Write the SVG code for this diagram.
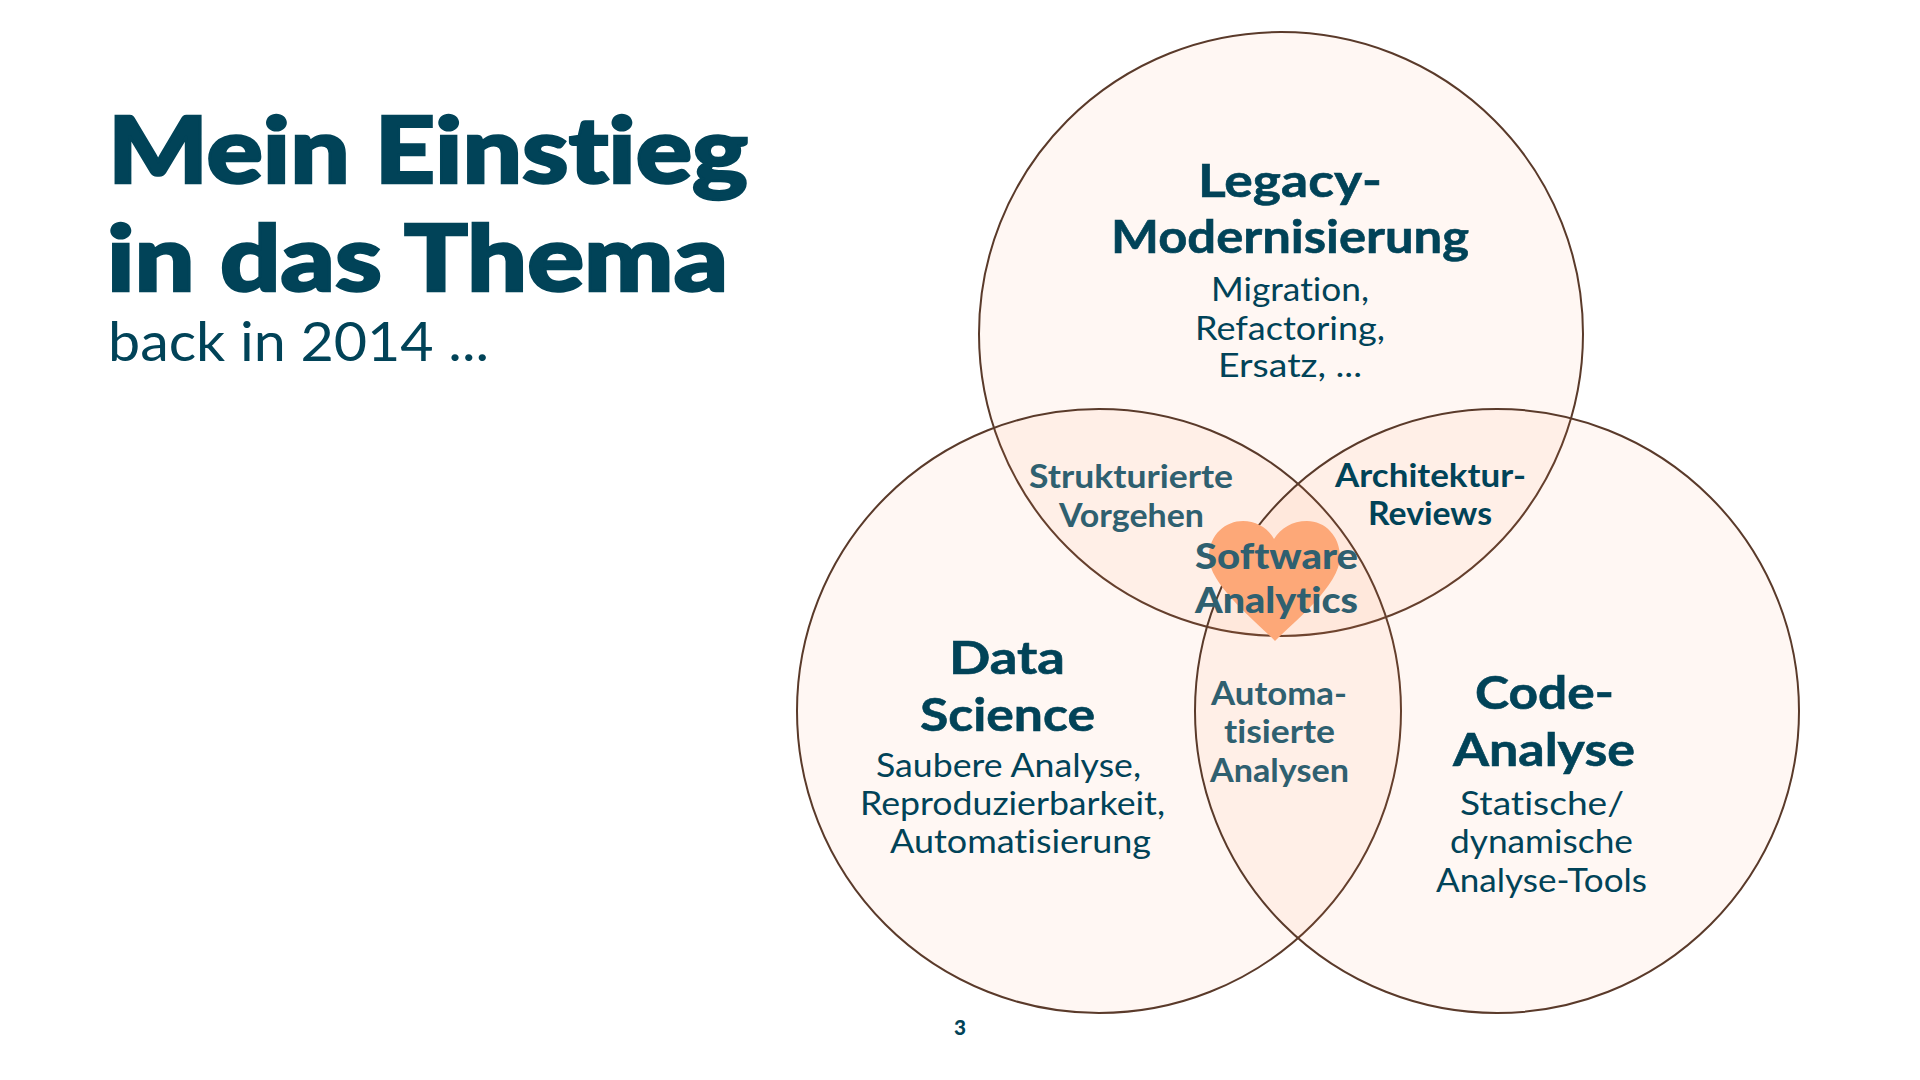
<svg xmlns="http://www.w3.org/2000/svg" width="1920" height="1080" viewBox="0 0 1920 1080">
<style>
text{font-family:Lato,"Liberation Sans",sans-serif;fill:#014358;font-variant-ligatures:none}
.t{font-weight:900;font-size:92px;stroke:#014358;stroke-width:2.5px}
.h{font-weight:700;font-size:46px;stroke:#014358;stroke-width:.6px}
.b{font-weight:400;font-size:32px}
.o{font-weight:700;font-size:32px}
.m{font-weight:700;font-size:32px;fill:#2f6070}
.s{font-weight:900;font-size:36px;fill:#2f6070}
.c{fill:#fb8f52;fill-opacity:.07;stroke:#5a3a2a;stroke-width:2}
</style>
<rect width="1920" height="1080" fill="#fff"/>
<g id="title">
<text class="t" x="108" y="183" textLength="640" lengthAdjust="spacingAndGlyphs">Mein Einstieg</text>
<text class="t" x="107" y="291" textLength="621" lengthAdjust="spacingAndGlyphs">in das Thema</text>
<text x="108" y="361" font-size="54" textLength="381" lengthAdjust="spacingAndGlyphs">back in 2014 ...</text>
</g>
<g id="connectors"></g>
<g id="circle-legacy"><circle class="c" cx="1281" cy="334" r="302"/></g>
<g id="circle-data"><circle class="c" cx="1099" cy="711" r="302"/></g>
<g id="circle-code"><circle class="c" cx="1497" cy="711" r="302"/></g>
<g id="heart"><path fill="#fda878" d="M1275 641C1257 622 1209 585 1209 557C1209 534 1226 521 1243 521C1256 521 1268 528 1274 539C1281 528 1292 521 1307 521C1325 521 1340 536 1340 557C1340 585 1294 622 1275 641Z"/></g>
<g id="legacy">
<text class="h" x="1198" y="197" textLength="184" lengthAdjust="spacingAndGlyphs">Legacy-</text>
<text class="h" x="1111" y="253" textLength="358" lengthAdjust="spacingAndGlyphs">Modernisierung</text>
<text class="b" x="1211" y="301" textLength="158" lengthAdjust="spacingAndGlyphs">Migration,</text>
<text class="b" x="1195" y="340" textLength="190" lengthAdjust="spacingAndGlyphs">Refactoring,</text>
<text class="b" x="1218" y="377" textLength="144" lengthAdjust="spacingAndGlyphs">Ersatz, ...</text>
</g>
<g id="strukturierte">
<text class="m" x="1029" y="488" textLength="204" lengthAdjust="spacingAndGlyphs">Strukturierte</text>
<text class="m" x="1059" y="527" textLength="145" lengthAdjust="spacingAndGlyphs">Vorgehen</text>
</g>
<g id="architektur">
<text class="o" x="1335" y="487" textLength="191" lengthAdjust="spacingAndGlyphs">Architektur-</text>
<text class="o" x="1368" y="525" textLength="124" lengthAdjust="spacingAndGlyphs">Reviews</text>
</g>
<g id="analytics">
<text class="s" x="1195" y="569" textLength="163" lengthAdjust="spacingAndGlyphs">Software</text>
<text class="s" x="1195" y="613" textLength="163" lengthAdjust="spacingAndGlyphs">Analytics</text>
</g>
<g id="automatisierte">
<text class="m" x="1211" y="705" textLength="136" lengthAdjust="spacingAndGlyphs">Automa-</text>
<text class="m" x="1224" y="743" textLength="111" lengthAdjust="spacingAndGlyphs">tisierte</text>
<text class="m" x="1210" y="782" textLength="139" lengthAdjust="spacingAndGlyphs">Analysen</text>
</g>
<g id="data">
<text class="h" x="949" y="674" textLength="116" lengthAdjust="spacingAndGlyphs">Data</text>
<text class="h" x="920" y="731" textLength="175" lengthAdjust="spacingAndGlyphs">Science</text>
<text class="b" x="876" y="777" textLength="265" lengthAdjust="spacingAndGlyphs">Saubere Analyse,</text>
<text class="b" x="860" y="815" textLength="305" lengthAdjust="spacingAndGlyphs">Reproduzierbarkeit,</text>
<text class="b" x="890" y="853" textLength="261" lengthAdjust="spacingAndGlyphs">Automatisierung</text>
</g>
<g id="code">
<text class="h" x="1475" y="709" textLength="139" lengthAdjust="spacingAndGlyphs">Code-</text>
<text class="h" x="1453" y="766" textLength="182" lengthAdjust="spacingAndGlyphs">Analyse</text>
<text class="b" x="1460" y="815" textLength="164" lengthAdjust="spacingAndGlyphs">Statische/</text>
<text class="b" x="1450" y="853" textLength="183" lengthAdjust="spacingAndGlyphs">dynamische</text>
<text class="b" x="1436" y="892" textLength="211" lengthAdjust="spacingAndGlyphs">Analyse-Tools</text>
</g>
<text id="page" x="954" y="1035" font-size="21" font-weight="900" textLength="12" lengthAdjust="spacingAndGlyphs">3</text>
</svg>
